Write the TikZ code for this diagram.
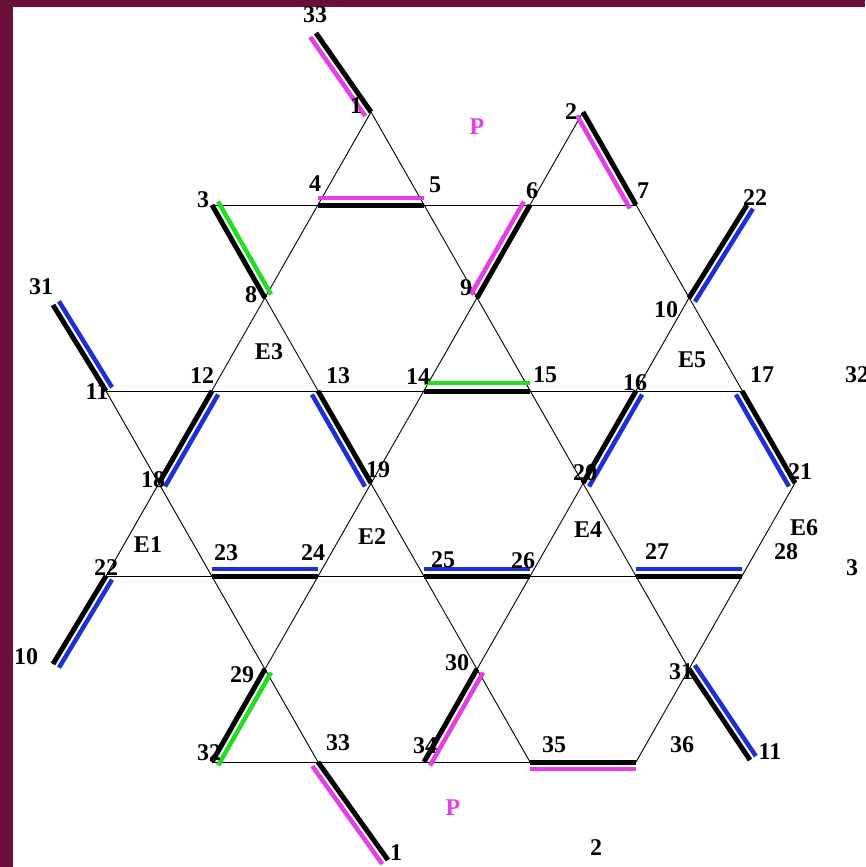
\documentclass[tikz,border=0pt]{standalone}
\usepackage{fontspec}
\setmainfont{Liberation Serif}
\usepackage{xcolor}
\usepackage{tikz}
\usetikzlibrary{calc}
\definecolor{frame}{HTML}{6B0E3B}
\definecolor{paper}{HTML}{FFFFFF}
\definecolor{pmag}{HTML}{E43EE4}
\definecolor{bblue}{HTML}{1F2FD6}
\definecolor{bgreen}{HTML}{25DC25}
\tikzset{
  bond/.style   = {draw=black, line width=0.9pt},
  barblk/.style = {draw=black, line width=5pt},
  bar/.style    = {line width=4.5pt},
  num/.style    = {font=\fontsize{24}{26}\selectfont\bfseries, inner sep=0pt, outer sep=0pt},
  site/.style   = {font=\fontsize{24}{26}\selectfont\bfseries, inner sep=0pt, outer sep=0pt},
  ptag/.style   = {font=\fontsize{24}{26}\selectfont\bfseries, text=pmag, inner sep=0pt, outer sep=0pt},
}
% black bar on the bond, coloured bar beside it (offset #4, left of travel)
\newcommand{\duo}[4]{%
  \draw[barblk] (#1) -- (#2);
  \draw[bar, draw=#3] ($(#1)!#4!90:(#2)$) -- ($(#2)!#4!-90:(#1)$);
}

\begin{document}
\begin{tikzpicture}[x=1pt,y=-1pt]
\path[use as bounding box] (0,0) rectangle (865,867);

% ---------- slide frame --------------------------------------------------
\fill[frame] (0,0) rectangle (865,867);
\fill[paper] (13,7) rectangle (865,867);

% ---------- lattice sites ------------------------------------------------
\coordinate (v1)  at (371,112);
\coordinate (v2)  at (583,112);
\coordinate (v3)  at (212,205);
\coordinate (v4)  at (318,205);
\coordinate (v5)  at (424,205);
\coordinate (v6)  at (530,205);
\coordinate (v7)  at (636,205);
\coordinate (v8)  at (265,298);
\coordinate (v9)  at (477,298);
\coordinate (v10) at (689,298);
\coordinate (v11) at (106,391);
\coordinate (v12) at (212,391);
\coordinate (v13) at (318,391);
\coordinate (v14) at (424,391);
\coordinate (v15) at (530,391);
\coordinate (v16) at (636,391);
\coordinate (v17) at (742,391);
\coordinate (v18) at (159,483);
\coordinate (v19) at (371,483);
\coordinate (v20) at (583,483);
\coordinate (v21) at (795,483);
\coordinate (v22) at (106,576);
\coordinate (v23) at (212,576);
\coordinate (v24) at (318,576);
\coordinate (v25) at (424,576);
\coordinate (v26) at (530,576);
\coordinate (v27) at (636,576);
\coordinate (v28) at (742,576);
\coordinate (v29) at (265,669);
\coordinate (v30) at (477,669);
\coordinate (v31) at (689,669);
\coordinate (v32) at (212,762);
\coordinate (v33) at (318,762);
\coordinate (v34) at (424,762);
\coordinate (v35) at (530,762);
\coordinate (v36) at (636,762);

% free ends of the boundary bonds
\coordinate (s33) at (316,33);
\coordinate (s22) at (747,205);
\coordinate (s31) at (53,305);
\coordinate (s10) at (53,664);
\coordinate (s1)  at (388,860);
\coordinate (s11) at (750,760);

% ---------- thin bonds ---------------------------------------------------
\draw[bond] (v3) -- (v7);
\draw[bond] (v11) -- (v17);
\draw[bond] (v22) -- (v28);
\draw[bond] (v32) -- (v36);

\draw[bond] (v32) -- (v2);
\draw[bond] (v34) -- (v10);
\draw[bond] (v36) -- (v21);
\draw[bond] (v22) -- (v1);

\draw[bond] (v1) -- (v31);
\draw[bond] (v3) -- (v35);
\draw[bond] (v11) -- (v33);
\draw[bond] (v2) -- (v21);

% ---------- marked bonds -------------------------------------------------
\duo{v1}{s33}{pmag}{7pt}
\duo{v4}{v5}{pmag}{7pt}
\duo{v3}{v8}{bgreen}{7pt}
\duo{v6}{v9}{pmag}{-7pt}
\duo{v7}{v2}{pmag}{7pt}
\duo{v10}{s22}{bblue}{-7pt}
\duo{v11}{s31}{bblue}{-7pt}
\duo{v12}{v18}{bblue}{7pt}
\duo{v13}{v19}{bblue}{-7pt}
\duo{v14}{v15}{bgreen}{8pt}
\duo{v16}{v20}{bblue}{7pt}
\duo{v17}{v21}{bblue}{-7pt}
\duo{v23}{v24}{bblue}{7pt}
\duo{v25}{v26}{bblue}{7pt}
\duo{v27}{v28}{bblue}{7pt}
\duo{v29}{v32}{bgreen}{7pt}
\duo{v30}{v34}{pmag}{7pt}
\duo{v33}{s1}{pmag}{-7pt}
\duo{v35}{v36}{pmag}{-7pt}
\duo{v31}{s11}{bblue}{7pt}
\duo{v22}{s10}{bblue}{7pt}

% ---------- site numbers -------------------------------------------------
\node[site] (l33a) at (315,15)  {33};
\node[site] (l1a)  at (356,106) {1};
\node[site] (l2a)  at (571,112) {2};
\node[site] (l3a)  at (203,200) {3};
\node[site] (l4)   at (315,184) {4};
\node[site] (l5)   at (435,185) {5};
\node[site] (l6)   at (532,191) {6};
\node[site] (l7)   at (643,191) {7};
\node[site] (l22a) at (755,198) {22};
\node[site] (l8)   at (251,295) {8};
\node[site] (l9)   at (466,288) {9};
\node[site] (l10a) at (666,310) {10};
\node[site] (l31a) at (41,287)  {31};
\node[site] (l11a) at (97,392)  {11};
\node[site] (l12)  at (202,376) {12};
\node[site] (l13)  at (338,376) {13};
\node[site] (l14)  at (418,377) {14};
\node[site] (l15)  at (545,375) {15};
\node[site] (l16)  at (635,383) {16};
\node[site] (l17)  at (762,375) {17};
\node[site, anchor=west] (l32a) at (845,375) {32};
\node[site] (l18)  at (153,480) {18};
\node[site] (l19)  at (378,470) {19};
\node[site] (l20)  at (585,473) {20};
\node[site] (l21)  at (800,472) {21};
\node[site] (l22b) at (106,568) {22};
\node[site] (l23)  at (226,553) {23};
\node[site] (l24)  at (313,553) {24};
\node[site] (l25)  at (443,560) {25};
\node[site] (l26)  at (523,561) {26};
\node[site] (l27)  at (657,552) {27};
\node[site] (l28)  at (786,552) {28};
\node[site] (l3b)  at (852,568) {3};
\node[site] (l10b) at (26,657)  {10};
\node[site] (l29)  at (242,675) {29};
\node[site] (l30)  at (457,663) {30};
\node[site] (l31b) at (681,672) {31};
\node[site] (l32b) at (209,753) {32};
\node[site] (l33b) at (338,743) {33};
\node[site] (l34)  at (425,746) {34};
\node[site] (l35)  at (554,745) {35};
\node[site] (l36)  at (682,745) {36};
\node[site] (l11b) at (770,752) {11};
\node[site] (l1b)  at (396,853) {1};
\node[site] (l2b)  at (596,848) {2};

% ---------- cell labels --------------------------------------------------
\node[num] (e1) at (148,545) {E1};
\node[num] (e2) at (372,537) {E2};
\node[num] (e3) at (269,352) {E3};
\node[num] (e4) at (588,530) {E4};
\node[num] (e5) at (692,360) {E5};
\node[num] (e6) at (804,528) {E6};

\node[ptag] (p1) at (477,127) {P};
\node[ptag] (p2) at (453,808) {P};

\end{tikzpicture}
\end{document}
